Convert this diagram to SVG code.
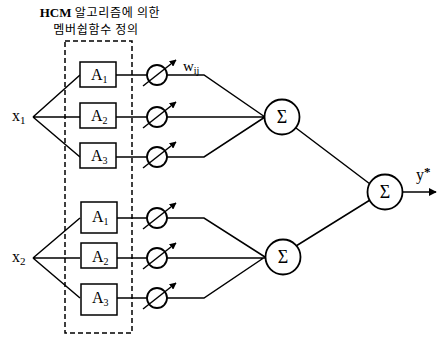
<svg xmlns="http://www.w3.org/2000/svg" width="437" height="337" viewBox="0 0 437 337">
<defs>
<marker id="ah" viewBox="0 0 10 10" refX="9" refY="5" markerWidth="7" markerHeight="7" orient="auto" markerUnits="userSpaceOnUse"><path d="M0,0 L10,5 L0,10 Z" fill="#000"/></marker>
<marker id="ah2" viewBox="0 0 10 10" refX="9" refY="5" markerWidth="8" markerHeight="8" orient="auto" markerUnits="userSpaceOnUse"><path d="M0,0 L10,5 L0,10 Z" fill="#000"/></marker>
</defs>
<style>
.ln{stroke:#000;stroke-width:1.5;fill:none}
.bx{stroke:#000;stroke-width:1.5;fill:#fff}
.c{stroke:#000;stroke-width:1.8;fill:#fff}
.t{font-family:"Liberation Serif",serif;fill:#000}
.k{font-family:"Noto Sans CJK KR",sans-serif;fill:#000;font-size:12px;letter-spacing:0.7px}
.wa{stroke:#000;stroke-width:1.5;fill:none;marker-end:url(#ah)}
</style>
<rect width="437" height="337" fill="#fff"/>
<g id="title">
<text x="100" y="17" text-anchor="middle" class="k"><tspan class="t" style="font-size:13px;font-weight:bold;letter-spacing:0">HCM</tspan> 알고리즘에 의한</text>
<text x="96" y="34" text-anchor="middle" class="k">멤버쉽함수 정의</text>
</g>
<g id="connectors">
<rect x="65" y="41" width="67" height="292" fill="none" stroke="#000" stroke-width="1.5" stroke-dasharray="5,3"/>
<path class="ln" d="M33,117 L80,75 M33,117 L80,117 M33,117 L80,157"/>
<path class="ln" d="M33,258 L80,218 M33,258 L80,258 M33,258 L80,298"/>
<path class="ln" d="M116,75 H147 M116,117 H147 M116,157 H147"/>
<path class="ln" d="M116,218 H147 M116,258 H147 M116,298 H147"/>
<path class="ln" d="M167,75 H204 L265,117 M167,117 H265 M167,157 H204 L265,117"/>
<path class="ln" d="M167,218 H204 L265,257 M167,258 H265 M167,298 H204 L265,257"/>
<path class="ln" d="M296,128 L370,184 M296,246 L370,200"/>
<path class="ln" d="M403,192 H436" marker-end="url(#ah2)"/>
</g>
<g id="x1"><text class="t" x="12" y="121" font-size="16">x<tspan font-size="11" dy="3">1</tspan></text></g>
<g id="x2"><text class="t" x="12" y="262" font-size="16">x<tspan font-size="11" dy="3">2</tspan></text></g>
<g id="A1a"><rect class="bx" x="80" y="62" width="36" height="25"/><text class="t" x="91" y="80" font-size="16">A<tspan font-size="10" dy="3">1</tspan></text></g>
<g id="A2a"><rect class="bx" x="80" y="103" width="36" height="25"/><text class="t" x="91" y="121" font-size="16">A<tspan font-size="10" dy="3">2</tspan></text></g>
<g id="A3a"><rect class="bx" x="80" y="143" width="36" height="25"/><text class="t" x="91" y="161" font-size="16">A<tspan font-size="10" dy="3">3</tspan></text></g>
<g id="A1b"><rect class="bx" x="81" y="202" width="36" height="31"/><text class="t" x="92" y="222" font-size="16">A<tspan font-size="10" dy="3">1</tspan></text></g>
<g id="A2b"><rect class="bx" x="81" y="243" width="36" height="25"/><text class="t" x="92" y="262" font-size="16">A<tspan font-size="10" dy="3">2</tspan></text></g>
<g id="A3b"><rect class="bx" x="81" y="284" width="36" height="31"/><text class="t" x="92" y="303" font-size="16">A<tspan font-size="10" dy="3">3</tspan></text></g>
<g id="w1"><circle class="c" cx="157" cy="75" r="10"/><path class="wa" d="M143,86 L176,60"/></g>
<g id="w2"><circle class="c" cx="157" cy="117" r="10"/><path class="wa" d="M143,128 L176,102"/></g>
<g id="w3"><circle class="c" cx="157" cy="157" r="10"/><path class="wa" d="M143,168 L176,142"/></g>
<g id="w4"><circle class="c" cx="157" cy="218" r="10"/><path class="wa" d="M143,229 L176,203"/></g>
<g id="w5"><circle class="c" cx="157" cy="258" r="10"/><path class="wa" d="M143,269 L176,243"/></g>
<g id="w6"><circle class="c" cx="157" cy="298" r="10"/><path class="wa" d="M143,309 L176,283"/></g>
<g id="wij"><text class="t" x="183" y="71" font-size="15">w<tspan font-size="10" dy="3">ij</tspan></text></g>
<g id="s1"><circle class="c" cx="282" cy="117" r="17.5"/><text class="t" x="282" y="123" font-size="18" text-anchor="middle">Σ</text></g>
<g id="s2"><circle class="c" cx="283" cy="257" r="17.5"/><text class="t" x="283" y="263" font-size="18" text-anchor="middle">Σ</text></g>
<g id="s3"><circle class="c" cx="385" cy="192" r="17.5"/><text class="t" x="385" y="198" font-size="18" text-anchor="middle">Σ</text></g>
<g id="y"><text class="t" x="416" y="180" font-size="16">y<tspan font-size="13" font-weight="bold" dy="-4">*</tspan></text></g>
</svg>
